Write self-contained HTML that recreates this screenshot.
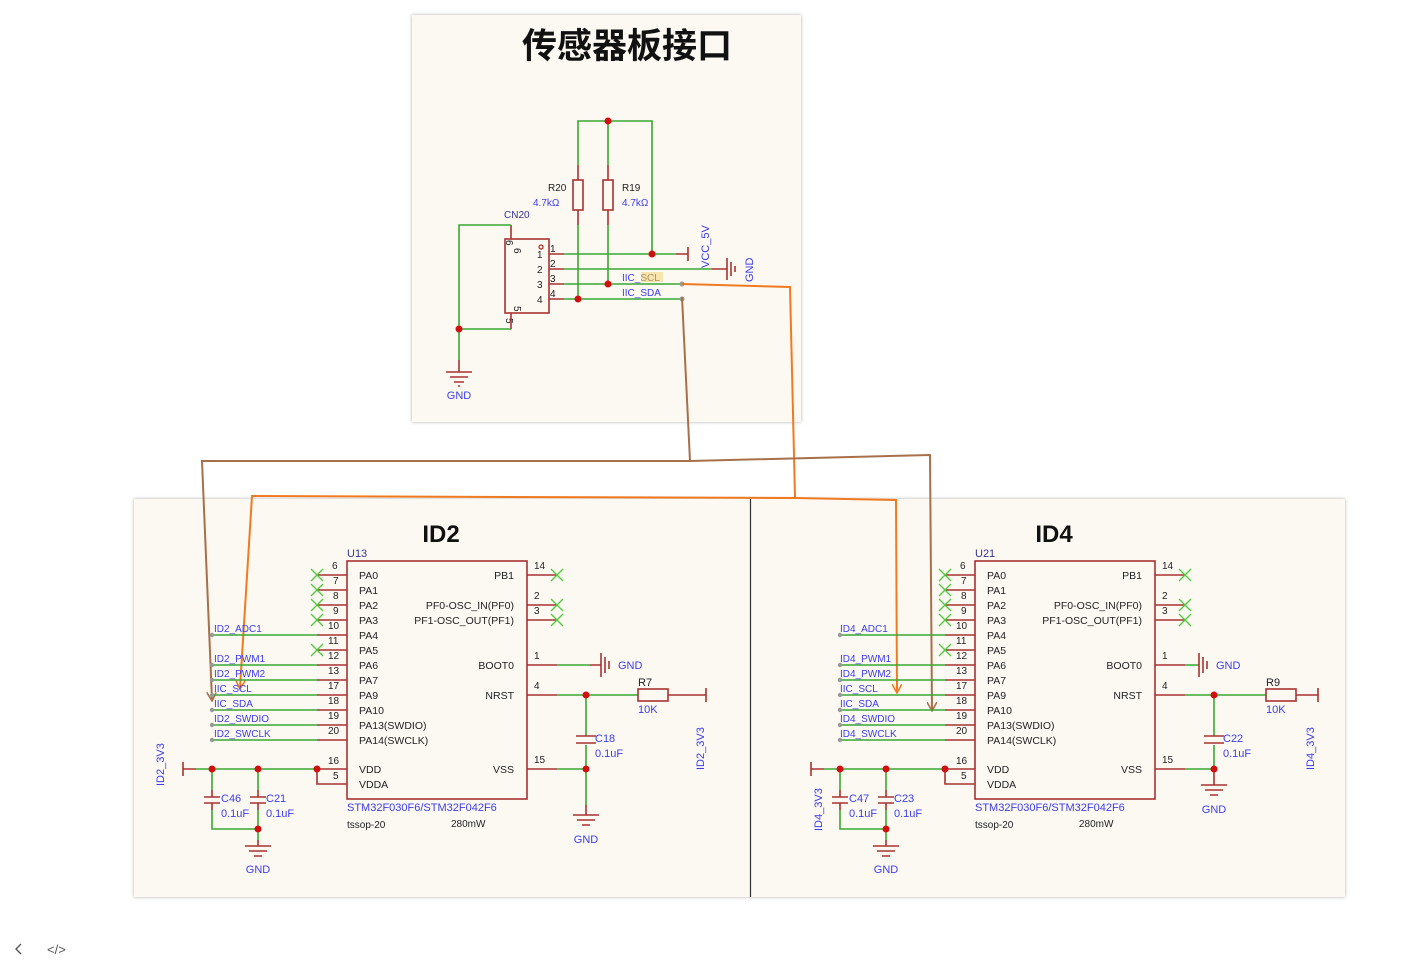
<!DOCTYPE html>
<html><head><meta charset="utf-8"><style>
html,body{margin:0;padding:0;background:#fff;width:1403px;height:967px;overflow:hidden}
svg{display:block}
text{font-family:"Liberation Sans",Arial,sans-serif}
.r{stroke:#a83232;stroke-width:1.6;fill:none}
.g{stroke:#3aa832;stroke-width:1.6;fill:none}
.x{stroke:#4ccc3c;stroke-width:1.3}
.b{fill:#3c3cf0;font-size:11px}
.k{fill:#222;font-size:10.5px}
.n{fill:#222;font-size:10px}
.d{fill:#d01010}
.gd{fill:#999}
</style></head><body>
<svg width="1403" height="967" viewBox="0 0 1403 967" xmlns="http://www.w3.org/2000/svg">
<defs>
<filter id="sh" x="-5%" y="-5%" width="110%" height="110%"><feDropShadow dx="0" dy="0" stdDeviation="1.5" flood-color="#aaa"/></filter>
<marker id="ao" markerWidth="10" markerHeight="10" refX="8" refY="5" orient="auto" markerUnits="userSpaceOnUse"><path d="M0,0 L9,5 L0,10" fill="none" stroke="#f07a20" stroke-width="1.6"/></marker>
<marker id="ab" markerWidth="10" markerHeight="10" refX="8" refY="5" orient="auto" markerUnits="userSpaceOnUse"><path d="M0,0 L9,5 L0,10" fill="none" stroke="#a8704a" stroke-width="1.6"/></marker>
</defs>
<!-- panels -->
<rect x="412" y="15" width="389" height="407" fill="#fcf9f3" filter="url(#sh)"/>
<rect x="134" y="499" width="1211" height="398" fill="#fcf9f3" filter="url(#sh)"/>
<line x1="750.5" y1="499" x2="750.5" y2="897" stroke="#333" stroke-width="1.2"/>

<!-- TOP: sensor interface -->
<text x="627" y="58" text-anchor="middle" style="font-family:'Liberation Sans','Noto Sans CJK SC',sans-serif;font-size:35px;font-weight:bold;fill:#111">传感器板接口</text>
<path class="g" d="M578,165 V121 H652 V254 M608,121 V165"/>
<circle class="d" cx="608" cy="121" r="3.5"/>
<path class="r" d="M578,165 V180 M578,210 V225 M608,165 V180 M608,210 V225"/>
<rect class="r" x="573" y="180" width="10" height="30"/>
<rect class="r" x="603" y="180" width="10" height="30"/>
<path class="g" d="M578,225 V299 M608,225 V284"/>
<text x="548" y="191" class="n">R20</text><text x="533" y="206" class="b" style="font-size:10px">4.7kΩ</text>
<text x="622" y="191" class="n">R19</text><text x="622" y="206" class="b" style="font-size:10px">4.7kΩ</text>
<rect class="r" x="505" y="239" width="44" height="74"/>
<circle cx="541" cy="247" r="2" fill="none" stroke="#c02020" stroke-width="1.2"/>
<text x="504" y="218" class="b" style="font-size:10px;fill:#333399">CN20</text>
<g class="n"><text x="537" y="258">1</text><text x="537" y="273">2</text><text x="537" y="288">3</text><text x="537" y="303">4</text>
<text x="550" y="252">1</text><text x="550" y="267">2</text><text x="550" y="282">3</text><text x="550" y="297">4</text></g>
<text x="0" y="0" class="n" transform="translate(514,248) rotate(90)">6</text>
<text x="0" y="0" class="n" transform="translate(514,306) rotate(90)">5</text>
<text x="0" y="0" class="n" transform="translate(506,240) rotate(90)">6</text>
<text x="0" y="0" class="n" transform="translate(506,318) rotate(90)">5</text>
<path class="r" d="M549,254 H564 M549,269 H564 M549,284 H564 M549,299 H564"/>
<path class="g" d="M564,254 H676 M564,269 H712 M564,284 H682 M564,299 H682"/>
<path class="r" d="M676,254 H688 M688,247 V261 M712,269 H727"/>
<path class="r" d="M727,258 V280 M731,262 V276 M735,266 V272" style="stroke-width:1.6"/>
<circle class="d" cx="652" cy="254" r="3.5"/><circle class="d" cx="608" cy="284" r="3.5"/><circle class="d" cx="578" cy="299" r="3.5"/>
<circle class="gd" cx="682" cy="284" r="2.5"/><circle class="gd" cx="682" cy="299" r="2.5"/>
<text class="b" transform="translate(709,268) rotate(-90)" style="font-size:11px">VCC_5V</text>
<text class="b" transform="translate(753,282) rotate(-90)" style="font-size:11px">GND</text>
<text x="622" y="281" class="b" style="font-size:10px">IIC_<tspan style="fill:#333;">SCL</tspan></text>
<rect x="641" y="272" width="22" height="10" fill="#f5d580" opacity="0.6"/>
<text x="622" y="296" class="b" style="font-size:10px">IIC_SDA</text>
<path class="r" d="M511,239 V225 M511,313 V329"/>
<path class="g" d="M511,225 H459 V360 M459,329 H511"/>
<circle class="d" cx="459" cy="329" r="3.5"/>
<path class="r" d="M459,360 V372 M446,372 H472 M450,377 H468 M454,382 H464 M458,386 H460"/>
<text x="459" y="399" class="b" text-anchor="middle">GND</text>

<!-- connectors -->
<path d="M682,284 L790,287 L795,498 L252,496 L240,688" fill="none" stroke="#f07a20" stroke-width="2" marker-end="url(#ao)"/>
<path d="M795,498 L896,500 L897,692" fill="none" stroke="#f07a20" stroke-width="2" marker-end="url(#ao)"/>
<path d="M682,297 L690,461 L202,461 L212,700" fill="none" stroke="#a8704a" stroke-width="2" marker-end="url(#ab)"/>
<path d="M690,461 L930,455 L932,710" fill="none" stroke="#a8704a" stroke-width="2" marker-end="url(#ab)"/>

<!-- ID2 -->
<g>
<text x="441" y="542" text-anchor="middle" style="font-size:24px;font-weight:bold;fill:#111">ID2</text>
<text x="347" y="557" class="b" style="fill:#333399">U13</text>
<rect class="r" x="347" y="561" width="180" height="238"/>
<path class="r" d="M317,575H347M317,590H347M317,605H347M317,620H347M317,635H347M317,650H347M317,665H347M317,680H347M317,695H347M317,710H347M317,725H347M317,740H347M317,769H347M317,769V784H347"/>
<g class="x"><path d="M311,569l12,12M323,569l-12,12M311,584l12,12M323,584l-12,12M311,599l12,12M323,599l-12,12M311,614l12,12M323,614l-12,12M311,644l12,12M323,644l-12,12"/></g>
<g class="n"><text x="332" y="569">6</text><text x="333" y="584">7</text><text x="333" y="599">8</text><text x="333" y="614">9</text><text x="328" y="629">10</text><text x="328" y="644">11</text><text x="328" y="659">12</text><text x="328" y="674">13</text><text x="328" y="689">17</text><text x="328" y="704">18</text><text x="328" y="719">19</text><text x="328" y="734">20</text><text x="328" y="764">16</text><text x="333" y="779">5</text></g>
<g class="k"><text x="359" y="579">PA0</text><text x="359" y="594">PA1</text><text x="359" y="609">PA2</text><text x="359" y="624">PA3</text><text x="359" y="639">PA4</text><text x="359" y="654">PA5</text><text x="359" y="669">PA6</text><text x="359" y="684">PA7</text><text x="359" y="699">PA9</text><text x="359" y="714">PA10</text><text x="359" y="729">PA13(SWDIO)</text><text x="359" y="744">PA14(SWCLK)</text><text x="359" y="773">VDD</text><text x="359" y="788">VDDA</text>
<text x="514" y="579" text-anchor="end">PB1</text><text x="514" y="609" text-anchor="end">PF0-OSC_IN(PF0)</text><text x="514" y="624" text-anchor="end">PF1-OSC_OUT(PF1)</text><text x="514" y="669" text-anchor="end">BOOT0</text><text x="514" y="699" text-anchor="end">NRST</text><text x="514" y="773" text-anchor="end">VSS</text></g>
<path class="g" d="M212,635H317M212,665H317M212,680H317M212,695H317M212,710H317M212,725H317M212,740H317"/>
<g class="gd"><circle cx="212" cy="635" r="2.2"/><circle cx="212" cy="665" r="2.2"/><circle cx="212" cy="680" r="2.2"/><circle cx="212" cy="695" r="2.2"/><circle cx="212" cy="710" r="2.2"/><circle cx="212" cy="725" r="2.2"/><circle cx="212" cy="740" r="2.2"/></g>
<g class="b" style="font-size:10px"><text x="214" y="632">ID2_ADC1</text><text x="214" y="662">ID2_PWM1</text><text x="214" y="677">ID2_PWM2</text><text x="214" y="692">IIC_SCL</text><text x="214" y="707">IIC_SDA</text><text x="214" y="722">ID2_SWDIO</text><text x="214" y="737">ID2_SWCLK</text></g>
<path class="r" d="M527,575H557M527,605H557M527,620H557M527,665H557M527,695H557M527,769H557"/>
<g class="x"><path d="M551,569l12,12M563,569l-12,12M551,599l12,12M563,599l-12,12M551,614l12,12M563,614l-12,12"/></g>
<g class="n"><text x="534" y="569">14</text><text x="534" y="599">2</text><text x="534" y="614">3</text><text x="534" y="659">1</text><text x="534" y="689">4</text><text x="534" y="763">15</text></g>
<path class="g" d="M557,665H590M557,695H638M557,769H586M586,695V736M586,745V805"/>
<path class="r" d="M590,665H601M601,653V677M605,657V673M609,661V669M586,736H576M576,736H596M576,743H596M668,695H706M706,688V702M586,805V815M573,815H599M577,820H595M582,825H590"/>
<rect class="r" x="638" y="689" width="30" height="12"/>
<circle class="d" cx="586" cy="695" r="3.5"/><circle class="d" cx="586" cy="769" r="3.5"/>
<text x="618" y="669" class="b">GND</text><text x="638" y="686" class="n" style="font-size:11px">R7</text><text x="638" y="713" class="b">10K</text>
<text x="595" y="742" class="b">C18</text><text x="595" y="757" class="b">0.1uF</text>
<text x="586" y="843" class="b" text-anchor="middle">GND</text>
<text class="b" transform="translate(704,770) rotate(-90)">ID2_3V3</text>
<text class="b" transform="translate(164,786) rotate(-90)">ID2_3V3</text>
<path class="r" d="M183,762V776M183,769H196"/>
<path class="g" d="M196,769H317M212,769V790M258,769V790M212,810V829H258V810M258,829V840"/>
<path class="r" d="M212,790V797M204,797H220M204,803H220M212,803V810M258,790V797M250,797H266M250,803H266M258,803V810M258,840V846M245,846H271M249,851H267M254,856H262"/>
<g class="d"><circle cx="212" cy="769" r="3.5"/><circle cx="258" cy="769" r="3.5"/><circle cx="317" cy="769" r="3.5"/><circle cx="258" cy="829" r="3.5"/></g>
<text x="221" y="802" class="b">C46</text><text x="221" y="817" class="b">0.1uF</text><text x="266" y="802" class="b">C21</text><text x="266" y="817" class="b">0.1uF</text>
<text x="258" y="873" class="b" text-anchor="middle">GND</text>
<text x="347" y="811" class="b">STM32F030F6/STM32F042F6</text>
<text x="347" y="828" class="n">tssop-20</text><text x="451" y="827" class="n">280mW</text>
</g>

<!-- ID4 -->
<g transform="translate(628,0)">
<text x="426" y="542" text-anchor="middle" style="font-size:24px;font-weight:bold;fill:#111">ID4</text>
<text x="347" y="557" class="b" style="fill:#333399">U21</text>
<rect class="r" x="347" y="561" width="180" height="238"/>
<path class="r" d="M317,575H347M317,590H347M317,605H347M317,620H347M317,635H347M317,650H347M317,665H347M317,680H347M317,695H347M317,710H347M317,725H347M317,740H347M317,769H347M317,769V784H347"/>
<g class="x"><path d="M311,569l12,12M323,569l-12,12M311,584l12,12M323,584l-12,12M311,599l12,12M323,599l-12,12M311,614l12,12M323,614l-12,12M311,644l12,12M323,644l-12,12"/></g>
<g class="n"><text x="332" y="569">6</text><text x="333" y="584">7</text><text x="333" y="599">8</text><text x="333" y="614">9</text><text x="328" y="629">10</text><text x="328" y="644">11</text><text x="328" y="659">12</text><text x="328" y="674">13</text><text x="328" y="689">17</text><text x="328" y="704">18</text><text x="328" y="719">19</text><text x="328" y="734">20</text><text x="328" y="764">16</text><text x="333" y="779">5</text></g>
<g class="k"><text x="359" y="579">PA0</text><text x="359" y="594">PA1</text><text x="359" y="609">PA2</text><text x="359" y="624">PA3</text><text x="359" y="639">PA4</text><text x="359" y="654">PA5</text><text x="359" y="669">PA6</text><text x="359" y="684">PA7</text><text x="359" y="699">PA9</text><text x="359" y="714">PA10</text><text x="359" y="729">PA13(SWDIO)</text><text x="359" y="744">PA14(SWCLK)</text><text x="359" y="773">VDD</text><text x="359" y="788">VDDA</text>
<text x="514" y="579" text-anchor="end">PB1</text><text x="514" y="609" text-anchor="end">PF0-OSC_IN(PF0)</text><text x="514" y="624" text-anchor="end">PF1-OSC_OUT(PF1)</text><text x="514" y="669" text-anchor="end">BOOT0</text><text x="514" y="699" text-anchor="end">NRST</text><text x="514" y="773" text-anchor="end">VSS</text></g>
<path class="g" d="M212,635H317M212,665H317M212,680H317M212,695H317M212,710H317M212,725H317M212,740H317"/>
<g class="gd"><circle cx="212" cy="635" r="2.2"/><circle cx="212" cy="665" r="2.2"/><circle cx="212" cy="680" r="2.2"/><circle cx="212" cy="695" r="2.2"/><circle cx="212" cy="710" r="2.2"/><circle cx="212" cy="725" r="2.2"/><circle cx="212" cy="740" r="2.2"/></g>
<g class="b" style="font-size:10px"><text x="212" y="632">ID4_ADC1</text><text x="212" y="662">ID4_PWM1</text><text x="212" y="677">ID4_PWM2</text><text x="212" y="692">IIC_SCL</text><text x="212" y="707">IIC_SDA</text><text x="212" y="722">ID4_SWDIO</text><text x="212" y="737">ID4_SWCLK</text></g>
<path class="r" d="M527,575H557M527,605H557M527,620H557M527,665H557M527,695H557M527,769H557"/>
<g class="x"><path d="M551,569l12,12M563,569l-12,12M551,599l12,12M563,599l-12,12M551,614l12,12M563,614l-12,12"/></g>
<g class="n"><text x="534" y="569">14</text><text x="534" y="599">2</text><text x="534" y="614">3</text><text x="534" y="659">1</text><text x="534" y="689">4</text><text x="534" y="763">15</text></g>
<path class="g" d="M557,665H570M557,695H638M557,769H586M586,695V736M586,745V769"/>
<path class="r" d="M570,665H571M571,653V677M575,657V673M579,661V669M586,736H576M576,736H596M576,743H596M668,695H690M690,688V702M586,769V785M573,785H599M577,790H595M582,795H590"/>
<rect class="r" x="638" y="689" width="30" height="12"/>
<circle class="d" cx="586" cy="695" r="3.5"/><circle class="d" cx="586" cy="769" r="3.5"/>
<text x="588" y="669" class="b">GND</text><text x="638" y="686" class="n" style="font-size:11px">R9</text><text x="638" y="713" class="b">10K</text>
<text x="595" y="742" class="b">C22</text><text x="595" y="757" class="b">0.1uF</text>
<text x="586" y="813" class="b" text-anchor="middle">GND</text>
<text class="b" transform="translate(686,770) rotate(-90)">ID4_3V3</text>
<text class="b" transform="translate(194,831) rotate(-90)">ID4_3V3</text>
<path class="r" d="M183,762V776M183,769H196"/>
<path class="g" d="M196,769H317M212,769V790M258,769V790M212,810V829H258V810M258,829V840"/>
<path class="r" d="M212,790V797M204,797H220M204,803H220M212,803V810M258,790V797M250,797H266M250,803H266M258,803V810M258,840V846M245,846H271M249,851H267M254,856H262"/>
<g class="d"><circle cx="212" cy="769" r="3.5"/><circle cx="258" cy="769" r="3.5"/><circle cx="317" cy="769" r="3.5"/><circle cx="258" cy="829" r="3.5"/></g>
<text x="221" y="802" class="b">C47</text><text x="221" y="817" class="b">0.1uF</text><text x="266" y="802" class="b">C23</text><text x="266" y="817" class="b">0.1uF</text>
<text x="258" y="873" class="b" text-anchor="middle">GND</text>
<text x="347" y="811" class="b">STM32F030F6/STM32F042F6</text>
<text x="347" y="828" class="n">tssop-20</text><text x="451" y="827" class="n">280mW</text>
</g>

<!-- bottom icons -->
<path d="M21,944 L16,949 L21,954" fill="none" stroke="#555" stroke-width="1.4"/>
<text x="47" y="954" style="font-size:13px;fill:#555">&lt;/&gt;</text>
</svg>
</body></html>
